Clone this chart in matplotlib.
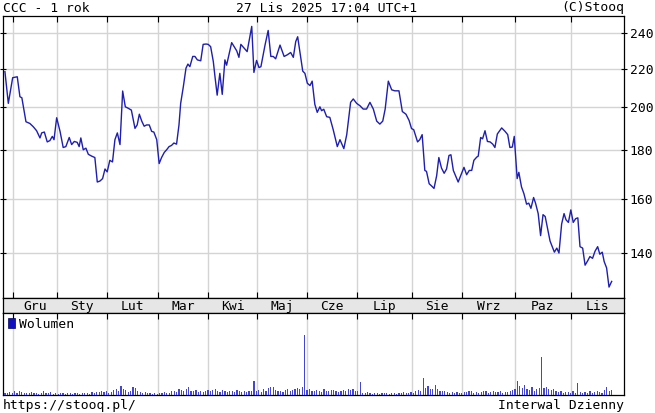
import matplotlib
matplotlib.use("Agg")
import matplotlib.pyplot as plt
from matplotlib.patches import Patch
from matplotlib.ticker import FixedLocator, FixedFormatter, NullLocator

# CCC close prices (x = trading session index)
sessions = [
    0.0, 1.4, 3.2, 5.1, 6.2, 7.0, 8.7, 10.3, 11.7, 13.1, 14.5, 15.2, 16.3, 17.5,
    18.6, 19.6, 20.3, 21.4, 22.8, 24.1, 25.2, 26.6, 27.6, 28.7, 29.9, 30.7, 31.4,
    32.4, 33.5, 34.5, 35.9, 37.2, 38.2,
    39.3, 40.4, 41.4, 42.3, 43.4, 44.5, 45.5, 46.5, 47.6, 48.7, 49.8, 51.0, 52.3,
    53.8, 54.7, 55.6, 56.6, 57.6, 58.6, 59.7, 60.7, 61.6, 62.8, 63.8, 64.8, 65.9,
    66.9, 67.9, 68.9, 69.9, 71.0, 72.0, 72.7, 73.8, 74.9, 75.7, 76.5, 77.7, 78.6,
    79.6,
    81.0, 82.0, 83.2, 84.1, 85.1, 86.2, 86.9, 87.8, 88.9, 89.9, 91.0, 91.7, 93.8,
    95.2, 95.9, 96.8, 97.6, 99.0, 100.2, 102.1, 103.0, 104.1, 105.1, 105.9, 107.6,
    108.9, 110.0, 111.0, 112.0, 113.8, 115.5, 116.8, 118.2, 119.3, 120.3, 121.1,
    121.8,
    123.2, 124.1, 125.1, 126.2, 127.1, 128.2, 129.2, 130.3, 131.0, 131.9, 133.1,
    134.4, 135.8, 137.5, 138.6, 140.2, 141.4, 143.0, 144.1, 145.5, 146.9, 148.2,
    149.6, 151.0, 152.4, 153.8, 155.1, 156.3, 157.3, 158.6, 160.0, 161.3, 163.0,
    164.4, 165.9, 167.2,
    168.2, 169.1, 170.7, 171.6, 172.6, 173.7, 174.4, 175.5, 176.5, 177.5, 178.6,
    179.5, 180.6, 181.7, 182.7, 183.7, 184.5, 185.5, 186.6, 187.5, 188.7, 189.9,
    191.0, 192.1, 193.1, 194.0, 195.2, 195.8, 196.8, 197.6, 198.6, 199.6, 200.7,
    201.8, 202.7, 203.7, 205.5, 206.9,
    208.0, 208.9, 209.9, 210.7, 211.9, 212.6, 213.7, 214.7, 215.8, 216.7, 217.6,
    218.7, 219.5, 220.6, 221.6, 222.6, 223.5, 224.5, 225.5, 226.4, 227.3, 228.3,
    229.2, 230.3, 231.3, 232.1, 233.1, 234.1, 235.1, 236.1, 237.0, 237.9, 239.0,
    240.0, 241.1, 242.0, 243.1, 244.1, 245.2, 246.1, 247.1, 247.9, 248.9, 249.9,
    251.0,
]
close = [
    218.3, 202.0, 215.1, 215.6, 205.3, 204.8, 193.1, 192.3, 190.8, 188.9, 185.6,
    187.9, 188.3, 183.8, 184.4, 186.3, 184.8, 195.0, 188.6, 181.3, 181.7, 185.8,
    182.6, 184.0, 183.6, 181.7, 185.6, 180.3, 181.0, 178.3, 177.5, 176.9, 166.6,
    167.0, 168.0, 172.0, 170.8, 175.7, 175.0, 184.8, 187.9, 182.6, 208.2, 200.3,
    199.6, 198.7, 190.0, 191.6, 196.7, 193.4, 191.0, 191.6, 191.6, 188.6, 188.3,
    184.8, 174.3, 176.9, 179.1, 180.3, 181.7, 182.2, 183.3, 182.8, 191.6, 202.0,
    210.4, 220.2, 222.4, 221.0, 226.6, 226.6, 224.7,
    224.2, 233.4, 233.6, 233.4, 232.1, 223.8, 215.6, 206.1, 217.4, 206.5, 224.7,
    221.8, 234.4, 231.2, 229.7, 226.1, 233.4, 231.2, 229.3, 243.9, 217.9, 224.4,
    220.5, 221.0, 233.0, 241.5, 226.6, 226.6, 225.3, 233.0, 226.6, 227.5, 228.8,
    226.1, 235.0, 237.8, 231.2,
    218.6, 217.4, 212.2, 211.0, 213.3, 201.5, 197.6, 200.3, 198.4, 199.1, 195.5,
    195.2, 189.4, 181.7, 184.8, 180.8, 187.1, 202.5, 204.2, 202.0, 200.8, 199.2,
    199.2, 202.5, 199.2, 193.4, 192.0, 193.4, 199.2, 213.3, 208.8, 208.3, 208.3,
    198.0, 196.7, 193.7,
    189.9, 189.4, 183.8, 184.8, 187.1, 171.4, 171.0, 165.9, 165.0, 164.0, 169.2,
    176.9, 172.4, 170.2, 172.0, 177.8, 178.1, 171.4, 168.7, 166.6, 169.6, 172.7,
    169.6, 171.4, 171.4, 175.7, 177.1, 177.5, 185.8, 185.2, 188.9, 184.0, 183.8,
    182.8, 181.3, 187.4, 190.2, 188.6,
    187.1, 181.3, 181.5, 186.3, 168.0, 170.6, 164.6, 161.9, 157.8, 158.2, 156.2,
    160.4, 158.2, 154.2, 146.1, 153.8, 153.1, 148.5, 144.2, 142.2, 140.3, 141.7,
    140.0, 150.3, 154.2, 151.9, 150.9, 155.6, 150.9, 152.3, 152.6, 142.2, 141.7,
    135.9, 137.4, 138.8, 138.2, 140.6, 142.2, 139.6, 140.3, 137.1, 135.0, 128.8,
    130.6,
]

# daily volume, thousands of shares (one per session)
volume = [
    60, 40, 75, 50, 90, 45, 100, 70, 40, 55, 60, 80, 45, 50, 35, 60, 95, 40, 50, 70,
    30, 45, 35, 60, 40, 30, 50, 45, 35, 55, 40, 30, 45, 60, 40, 35, 75, 55, 80, 65,
    90, 70, 110, 60, 85, 120, 140, 100, 230, 160, 120, 80, 110, 200, 175, 90, 70, 60, 80, 55,
    40, 35, 45, 30, 50, 40, 70, 60, 45, 90, 110, 80, 140, 120, 100, 160, 200, 110, 90, 130,
    70, 95, 80, 110, 130, 90, 115, 140, 100, 85, 120, 95, 75, 110, 90, 80, 130, 100, 85, 95,
    80, 110, 90, 350, 95, 120, 85, 140, 110, 175, 200, 210, 130, 90, 100, 75, 120, 140, 110, 130,
    150, 170, 140, 190, 1500, 120, 140, 110, 90, 130, 100, 80, 140, 110, 95, 120, 130, 100, 85, 110,
    120, 90, 140, 120, 160, 110, 100, 330, 60, 45, 70, 50, 35, 55, 40, 30, 50, 45, 60, 35,
    40, 55, 35, 60, 45, 70, 40, 50, 65, 55, 90, 120, 100, 420, 180, 220, 150, 160, 250, 140,
    110, 90, 100, 80, 60, 75, 50, 65, 40, 55, 80, 70, 100, 90, 60, 75, 50, 70, 95, 110,
    60, 75, 90, 70, 85, 110, 60, 80, 70, 95, 120, 140, 350, 220, 170, 250, 160, 130, 200, 110,
    140, 180, 950, 170, 200, 150, 120, 160, 90, 70, 100, 60, 80, 70, 50, 90, 60, 300, 80, 60,
    70, 50, 90, 60, 80, 110, 70, 60, 130, 200, 90, 120,
]

month_names = ["Gru", "Sty", "Lut", "Mar", "Kwi", "Maj", "Cze", "Lip", "Sie", "Wrz", "Paz", "Lis"]
month_starts = [3.3, 21.5, 42.2, 63.3, 84.0, 104.3, 124.9, 145.6, 168.4, 189.1, 211.0, 234.2]
price_ticks = [140, 160, 180, 200, 220, 240]

FONT = "DejaVu Sans Mono"
FS = 9.4
GRID = "#d4d4d4"
XLIM = (-0.8, 256.1)

plt.rcParams["font.family"] = FONT

W, H = 655, 413
fig = plt.figure(figsize=(W / 100, H / 100), dpi=100)
fig.patch.set_facecolor("white")


def box(left, top, right, bottom):
    return [left / W, (H - bottom) / H, (right - left) / W, (bottom - top) / H]


# price panel
ax = fig.add_axes(box(3, 16, 624, 298))
ax.plot(sessions, close, color="#1e1eb0", lw=1.0, zorder=3)
ax.set_yscale("log")
ax.set_xlim(*XLIM)
ax.set_ylim(125.4, 250.2)
ax.yaxis.set_major_locator(FixedLocator(price_ticks))
ax.yaxis.set_major_formatter(FixedFormatter([str(t) for t in price_ticks]))
ax.yaxis.set_minor_locator(NullLocator())
ax.set_xticks(month_starts)
ax.set_xticklabels([])
ax.grid(True, color=GRID, lw=1.0, zorder=0)
ax.tick_params(axis="y", left=True, right=True, labelleft=False, labelright=True,
               direction="inout", length=5, width=0.8, pad=1.5, labelsize=FS)
ax.tick_params(axis="x", top=True, bottom=True, direction="in", length=4, width=0.8)
for s in ax.spines.values():
    s.set_linewidth(0.9)

# month band
band = fig.add_axes(box(3, 298, 624, 313))
band.set_facecolor("#e6e6e6")
band.set_xlim(*XLIM)
band.set_ylim(0, 1)
band.set_xticks([])
band.set_yticks([])
bounds = month_starts + [XLIM[1]]
for name, a, b in zip(month_names, bounds[:-1], bounds[1:]):
    band.text((a + b) / 2, 0.45, name, ha="center", va="center", fontsize=FS)
for s in band.spines.values():
    s.set_linewidth(0.9)

# volume panel
vax = fig.add_axes(box(3, 313, 624, 395))
vax.bar(range(len(volume)), volume, width=0.5, color="#4444d6", zorder=3)
vax.set_xlim(*XLIM)
vax.set_ylim(0, 2050)
vax.set_xticks(month_starts)
vax.set_xticklabels([])
vax.set_yticks([])
vax.grid(True, axis="x", color=GRID, lw=1.0, zorder=0)
vax.tick_params(axis="x", top=True, bottom=False, direction="in", length=4, width=0.8)
for s in vax.spines.values():
    s.set_linewidth(0.9)
vax.legend(handles=[Patch(facecolor="#1010c0", edgecolor="#000060", lw=0.5)],
           labels=["Wolumen"], loc="upper left", frameon=False, fontsize=FS,
           handlelength=0.6, handleheight=0.7, handletextpad=0.25,
           borderaxespad=0.15, borderpad=0.2)

# header / footer
fig.text(3 / W, (H - 8) / H, "CCC - 1 rok", ha="left", va="center", fontsize=FS)
fig.text(327 / W, (H - 8) / H, "27 Lis 2025 17:04 UTC+1", ha="center", va="center", fontsize=FS)
fig.text(624 / W, (H - 8) / H, "(C)Stooq", ha="right", va="center", fontsize=FS)
fig.text(3 / W, (H - 405) / H, "https://stooq.pl/", ha="left", va="center", fontsize=FS)
fig.text(624 / W, (H - 405) / H, "Interwal Dzienny", ha="right", va="center", fontsize=FS)

fig.savefig("out.png", dpi=100)
